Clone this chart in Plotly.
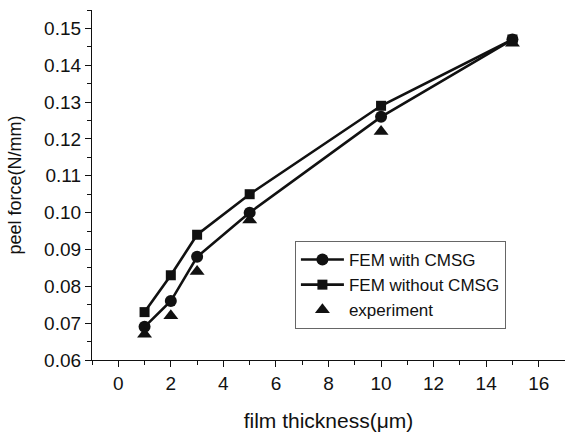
import plotly.graph_objects as go

thickness = [1, 2, 3, 5, 10, 15]
fem_with_cmsg = [0.069, 0.076, 0.088, 0.100, 0.126, 0.147]
fem_without_cmsg = [0.073, 0.083, 0.094, 0.105, 0.129, 0.147]
experiment = [0.067, 0.072, 0.084, 0.098, 0.122, 0.146]

x_ticks = list(range(0, 17, 2))
y_ticks = [0.06, 0.07, 0.08, 0.09, 0.10, 0.11, 0.12, 0.13, 0.14, 0.15]

ink = "#111111"
fam = "Liberation Sans, Arial, sans-serif"
fig = go.Figure()
fig.add_trace(go.Scatter(x=thickness, y=fem_with_cmsg, mode="lines+markers",
                         name="FEM with CMSG",
                         line=dict(color=ink, width=2.6),
                         marker=dict(symbol="circle", size=12, color=ink)))
fig.add_trace(go.Scatter(x=thickness, y=fem_without_cmsg, mode="lines+markers",
                         name="FEM without CMSG",
                         line=dict(color=ink, width=2.6),
                         marker=dict(symbol="square", size=10, color=ink)))
fig.add_trace(go.Scatter(x=thickness, y=experiment, mode="markers",
                         name="experiment",
                         marker=dict(symbol="triangle-up", size=13, color=ink)))

fig.update_layout(
    width=565, height=433,
    margin=dict(l=92, r=0, t=10, b=73),
    paper_bgcolor="white", plot_bgcolor="white",
    font=dict(family=fam, size=19, color=ink),
    showlegend=True,
    legend=dict(x=0.429, y=0.34, xanchor="left", yanchor="top",
                bordercolor="#666666", borderwidth=1, bgcolor="white",
                font=dict(family=fam, size=17, color=ink),
                itemwidth=43, tracegroupgap=0),
    xaxis=dict(range=[-1, 17], tickvals=x_ticks, ticks="outside", ticklen=6,
               tickwidth=1.3, tickcolor=ink, showline=True, linecolor=ink,
               linewidth=1.3, showgrid=False, zeroline=False, automargin=False,
               tickfont=dict(family=fam, size=19, color=ink),
               minor=dict(dtick=1, tick0=0, ticks="outside", ticklen=3.5,
                          tickcolor=ink, tickwidth=1.2, showgrid=False),
               title=dict(text="film thickness(μm)", standoff=20,
                          font=dict(family=fam, size=21, color=ink))),
    yaxis=dict(range=[0.06, 0.155], tickvals=y_ticks, tickformat=".2f",
               ticks="outside", ticklen=6, tickwidth=1.3, tickcolor=ink,
               showline=True, linecolor=ink, linewidth=1.3, showgrid=False,
               zeroline=False, automargin=False,
               tickfont=dict(family=fam, size=19, color=ink),
               minor=dict(dtick=0.005, tick0=0.06, ticks="outside", ticklen=3.5,
                          tickcolor=ink, tickwidth=1.2, showgrid=False),
               title=dict(text="peel force(N/mm)", standoff=17,
                          font=dict(family=fam, size=18, color=ink))),
)

fig.write_html("out.html",
               config={"displayModeBar": False},
               post_script="document.body.style.margin='0px';document.body.style.overflow='hidden';")
